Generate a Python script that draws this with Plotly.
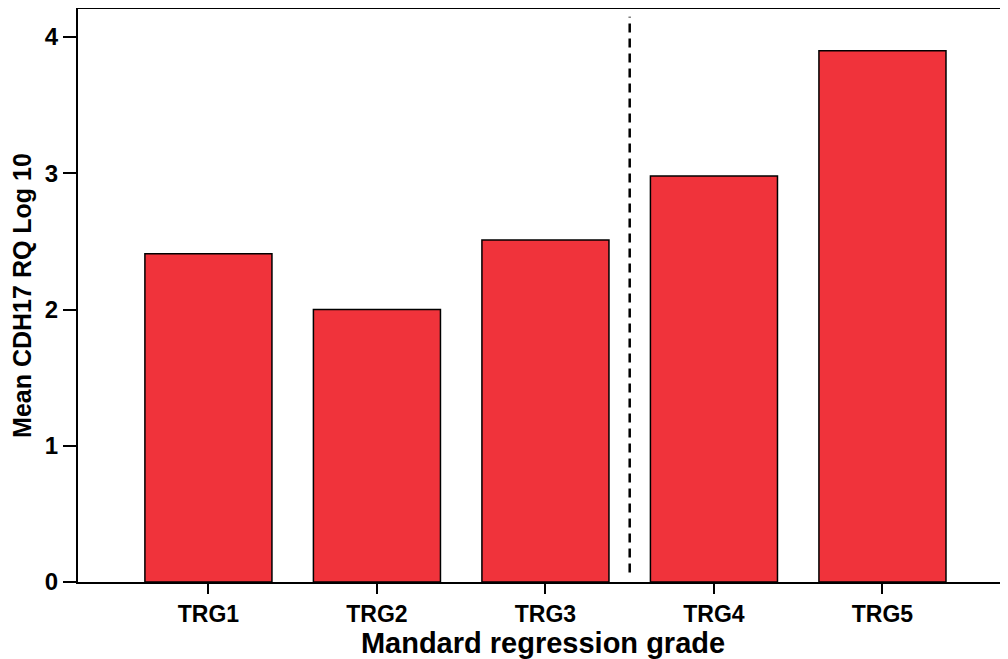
import plotly.graph_objects as go

# Datos
grados = ['TRG1', 'TRG2', 'TRG3', 'TRG4', 'TRG5']
media_cdh17 = [2.41, 2.00, 2.51, 2.98, 3.90]
y_ticks = [0, 1, 2, 3, 4]

# Línea divisoria entre TRG3 y TRG4
divisor_x = 2.5
divisor_y = [0.07, 4.15]

fuente = 'Liberation Sans, Arial, sans-serif'

fig = go.Figure()

fig.add_trace(go.Bar(
    x=grados,
    y=media_cdh17,
    width=0.754,
    marker=dict(color='#F0333B', line=dict(color='black', width=1.5)),
    showlegend=False
))

fig.add_shape(
    type='line', xref='x', yref='y',
    x0=divisor_x, x1=divisor_x, y0=divisor_y[0], y1=divisor_y[1],
    line=dict(color='black', width=2.5, dash='9px,6px')
)

# La página añade 8px de margen al body: se compensa aquí
fig.update_layout(
    width=1000,
    height=651,
    margin=dict(l=70, r=0, t=1, b=77),
    plot_bgcolor='white',
    paper_bgcolor='white',
    font=dict(family=fuente, color='black'),
    xaxis=dict(
        range=[-0.774, 4.745],
        showline=True, linecolor='black', linewidth=2, mirror=True,
        ticks='outside', ticklen=10, tickwidth=2, tickcolor='black',
        tickfont=dict(size=23, family=fuente, weight='bold'),
        showgrid=False,
        title=dict(text='<b>Mandard regression grade</b>',
                   font=dict(size=29, family=fuente), standoff=9),
    ),
    yaxis=dict(
        range=[0, 4.206],
        tickvals=y_ticks,
        showline=True, linecolor='black', linewidth=2,
        ticks='outside', ticklen=13, tickwidth=2, tickcolor='black',
        tickfont=dict(size=24, family=fuente, weight='bold'),
        showgrid=False, zeroline=False,
        title=dict(text='<b>Mean CDH17 RQ Log 10</b>',
                   font=dict(size=25, family=fuente), standoff=6),
    ),
)

fig.write_html('out.html')
